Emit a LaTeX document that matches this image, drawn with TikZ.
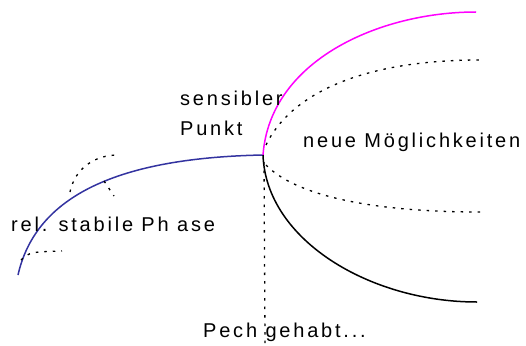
\documentclass[tikz,border=0pt]{standalone}
\usepackage{fontspec}
\setmainfont{Liberation Sans}[LetterSpace=14]
\definecolor{phaseblue}{RGB}{51,51,160}
\definecolor{chancepink}{RGB}{255,0,255}
\begin{document}
\begin{tikzpicture}[x=1pt,y=-1pt,
  lbl/.style={anchor=base west,inner sep=0pt,font=\fontsize{20pt}{24pt}\selectfont},
  curve/.style={line width=1.5pt},
  dotline/.style={line width=1.3pt,dash pattern=on 2.5pt off 6pt}]
\useasboundingbox (0,0) rectangle (526,345);
% key points
\coordinate (P) at (263,155);
\coordinate (blueStart) at (18,275);
\coordinate (pinkEnd) at (476,12);
\coordinate (blackEnd) at (477,302);
\coordinate (upStart) at (266,145);
\coordinate (upEnd) at (480,60);
\coordinate (lowStart) at (266,165);
\coordinate (lowEnd) at (480,212);
\coordinate (vStart) at (264,162);
\coordinate (vEnd) at (265,343);
% curves
\draw[curve,phaseblue] (blueStart) .. controls (35,200) and (110,158) .. (P);
\draw[curve,chancepink] (P) .. controls (270,60) and (380,12) .. (pinkEnd);
\draw[curve,black] (P) .. controls (266,240) and (370,302) .. (blackEnd);
\draw[dotline] (upStart) .. controls (290,95) and (360,60) .. (upEnd);
\draw[dotline] (lowStart) .. controls (295,195) and (370,212) .. (lowEnd);
\draw[dotline] (vStart) -- (vEnd);
% left dotted pieces
\coordinate (arcA) at (70,192);
\coordinate (arcB) at (118,155);
\draw[dotline] (arcA) .. controls (75,168) and (95,155) .. (arcB);
\coordinate (tickA) at (104,181);
\coordinate (tickB) at (114,196);
\draw[dotline] (tickA) -- (tickB);
\coordinate (lowA) at (21,260);
\coordinate (lowB) at (62,251);
\draw[dotline] (lowA) .. controls (30,252) .. (lowB);
% labels
\node[lbl] (sens) at (180,105) {sensibler};
\node[lbl] (punkt) at (180,135) {Punkt};
\node[lbl] (neue) at (303,147) {neue Möglichkeiten};
\node[lbl] (stabil) at (11,231) {rel. stabile Ph ase};
\node[lbl] (pech) at (203,337) {Pech gehabt...};
\end{tikzpicture}
\end{document}
